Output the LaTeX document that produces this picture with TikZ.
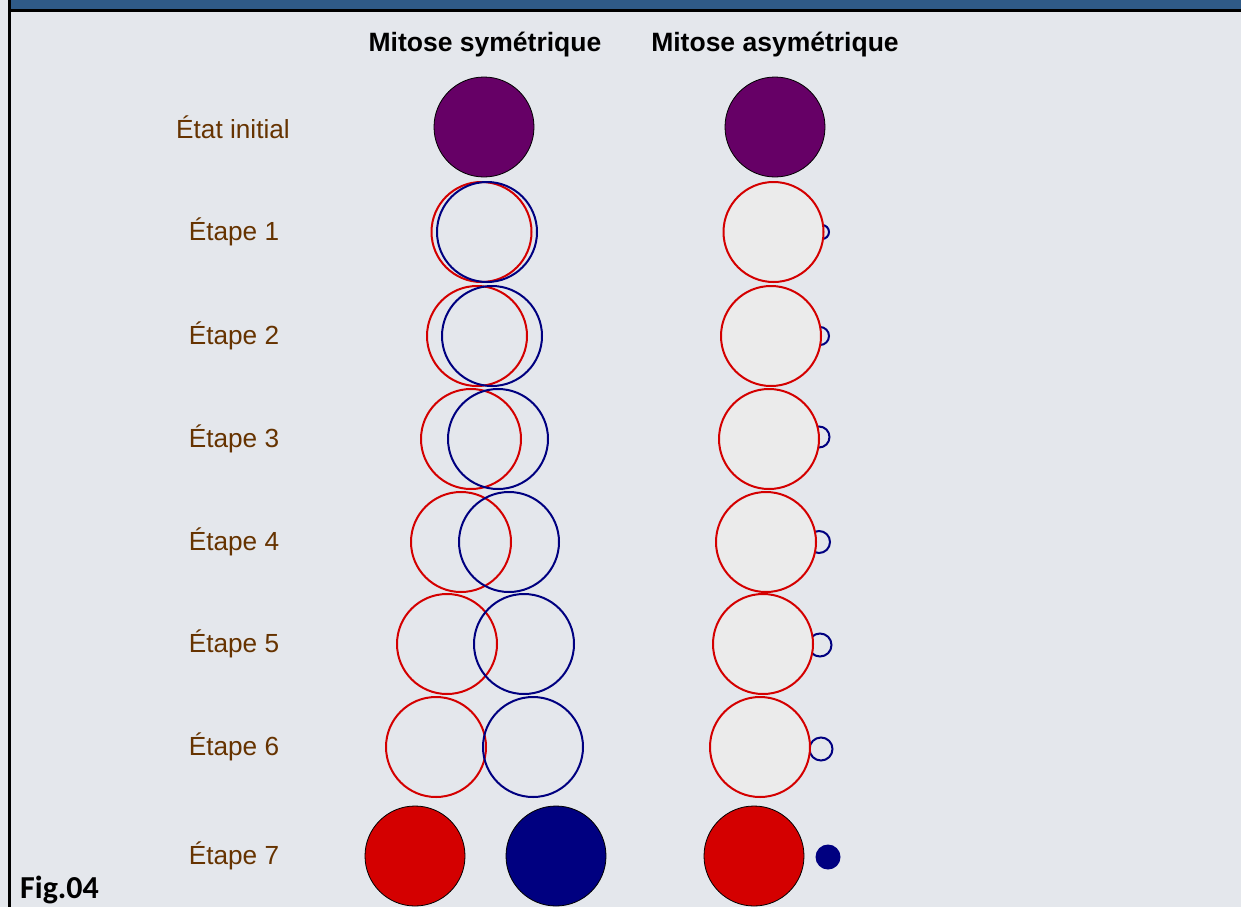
\documentclass[tikz,border=0pt]{standalone}
\usepackage{fontspec}
\setmainfont{Liberation Sans}
\newfontfamily\figfont{Carlito}
\definecolor{bg}{RGB}{228,231,236}
\definecolor{band}{RGB}{47,90,135}
\definecolor{cellpurple}{RGB}{102,0,102}
\definecolor{cellred}{RGB}{212,0,0}
\definecolor{cellblue}{RGB}{0,0,128}
\definecolor{labelbrown}{RGB}{102,51,0}
\definecolor{cellgray}{RGB}{235,235,235}
\begin{document}
\begin{tikzpicture}[x=1pt,y=-1pt,
  cell/.style={circle,inner sep=0pt,outer sep=0pt,minimum size=100pt},
  mother/.style={cell,fill=cellpurple,draw=black,line width=0.8pt},
  redring/.style={cell,draw=cellred,line width=2pt},
  bluering/.style={cell,draw=cellblue,line width=2pt},
  redgray/.style={cell,draw=cellred,fill=cellgray,line width=2pt},
  redfull/.style={cell,fill=cellred,draw=black,line width=0.8pt},
  bluefull/.style={cell,fill=cellblue,draw=black,line width=0.8pt},
  bud/.style={circle,inner sep=0pt,outer sep=0pt,draw=cellblue,line width=2pt},
  steplabel/.style={text=labelbrown,font=\fontsize{26.2}{31}\selectfont,anchor=center},
  header/.style={font=\bfseries\fontsize{26.5}{31}\selectfont,anchor=center}]
\useasboundingbox (0,0) rectangle (1241,907);
\fill[bg] (0,0) rectangle (1241,907);
\fill[band] (11,0) rectangle (1241,9);
\draw[black,line width=3pt] (1241,10.5) -- (9.5,10.5) -- (9.5,907);
\draw[black,line width=3pt] (9.5,0) -- (9.5,12);

% headers
\node[header] (hsym) at (485,45) {Mitose symétrique};
\node[header] (hasym) at (775,45) {Mitose asymétrique};

% labels
\node[steplabel] (l0) at (233,127) {État initial};
\node[steplabel] (l1) at (234,232) {Étape 1};
\node[steplabel] (l2) at (234,336) {Étape 2};
\node[steplabel] (l3) at (234,439) {Étape 3};
\node[steplabel] (l4) at (234,542) {Étape 4};
\node[steplabel] (l5) at (234,644) {Étape 5};
\node[steplabel] (l6) at (234,747) {Étape 6};
\node[steplabel] (l7) at (234,856) {Étape 7};

% symmetric mitosis
\node[mother] (s0) at (484,127) {};
\node[redring] (s1r) at (481.5,232) {};
\node[bluering] (s1b) at (487,232) {};
\node[redring] (s2r) at (477,336) {};
\node[bluering] (s2b) at (492,336) {};
\node[redring] (s3r) at (471,439) {};
\node[bluering] (s3b) at (498,439) {};
\node[redring] (s4r) at (461,542) {};
\node[bluering] (s4b) at (509,542) {};
\node[redring] (s5r) at (447,644) {};
\node[bluering] (s5b) at (524,644) {};
\node[redring] (s6r) at (436,747) {};
\node[bluering] (s6b) at (533,747) {};
\node[redfull] (s7r) at (415,856) {};
\node[bluefull] (s7b) at (556,856) {};

% asymmetric mitosis
\node[mother] (a0) at (775,127) {};
\node[bud,minimum size=14pt] (a1b) at (822,232) {};
\node[redgray] (a1r) at (773.5,232) {};
\node[bud,minimum size=18pt] (a2b) at (820,336) {};
\node[redgray] (a2r) at (771,336) {};
\node[bud,minimum size=21pt] (a3b) at (819,437) {};
\node[redgray] (a3r) at (769,439) {};
\node[bud,minimum size=22pt] (a4b) at (819,542) {};
\node[redgray] (a4r) at (766,542) {};
\node[bud,minimum size=23pt] (a5b) at (820,645) {};
\node[redgray] (a5r) at (763,644) {};
\node[bud,minimum size=23pt] (a6b) at (821,749) {};
\node[redgray] (a6r) at (760,747) {};
\node[redfull] (a7r) at (754,856) {};
\node[circle,inner sep=0pt,fill=cellblue,minimum size=25pt] (a7b) at (828,857) {};

% figure tag
\node[font=\figfont\bfseries\fontsize{32}{38}\selectfont,anchor=base west,inner sep=0pt] (fig) at (20,898) {Fig.04};
\end{tikzpicture}
\end{document}
